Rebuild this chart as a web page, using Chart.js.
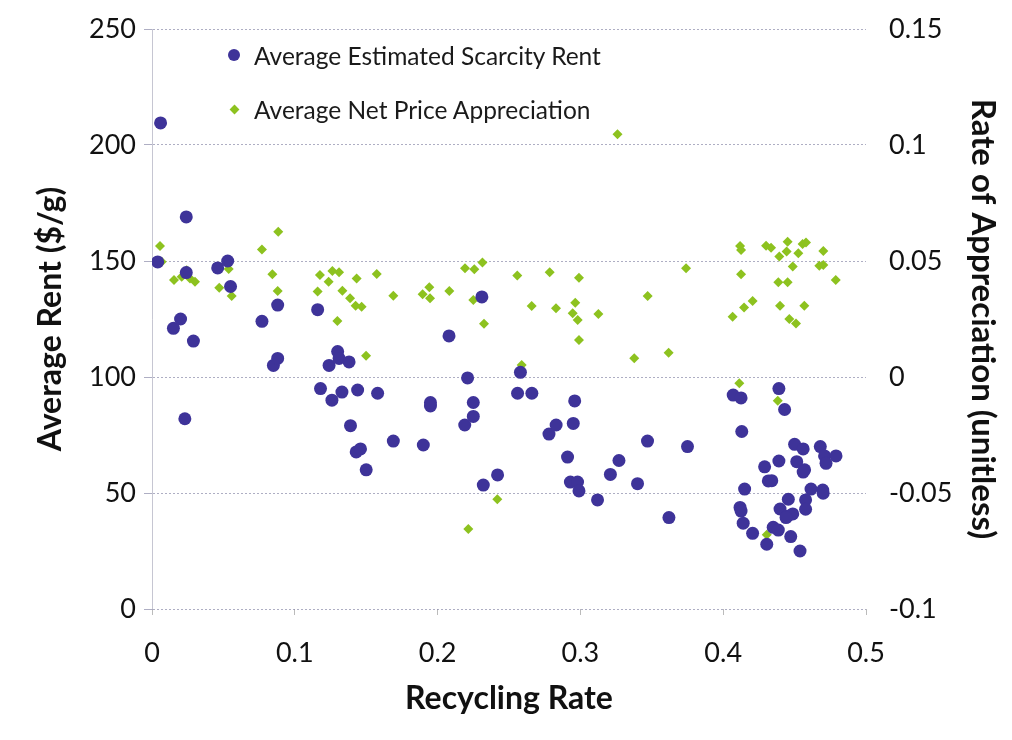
<!DOCTYPE html>
<html>
<head>
<meta charset="utf-8">
<script src="https://cdn.jsdelivr.net/npm/chart.js@4.4.1/dist/chart.umd.min.js"></script>
<style>
    body { margin: 0; background: #fff; }
    #wrap { position: relative; width: 1012px; height: 740px; }
    #legend { position: absolute; left: 222px; top: 28px; font-family: Lato, sans-serif; font-size: 24.5px; color: #1a1a1a; }
    .legend-item { display: flex; align-items: center; height: 54px; }
    .legend-mark { width: 24px; display: flex; justify-content: center; margin-right: 8px; }
    .dot { width: 12px; height: 12px; border-radius: 50%; }
    .diamond { width: 7px; height: 7px; transform: rotate(45deg); }
</style>
</head>
<body>
<div id="wrap">
    <canvas id="chart" width="1012" height="740"></canvas>
    <div id="legend"></div>
</div>
<script>
// Average Estimated Scarcity Rent ($/g) vs recycling rate
const rentRate = [
    0.006, 0.004, 0.015, 0.020, 0.023, 0.024, 0.024, 0.029, 0.046, 0.053,
    0.055, 0.077, 0.085, 0.088, 0.088, 0.116, 0.118, 0.124, 0.126, 0.130,
    0.131, 0.133, 0.138, 0.139, 0.143, 0.144, 0.146, 0.150, 0.158, 0.169,
    0.190, 0.195, 0.195, 0.208, 0.219, 0.221, 0.225, 0.225, 0.231, 0.232,
    0.242, 0.256, 0.258, 0.266, 0.278, 0.283, 0.291, 0.293, 0.296, 0.295,
    0.298, 0.299, 0.312, 0.321, 0.327, 0.340, 0.347, 0.362, 0.375, 0.407,
    0.4125, 0.413, 0.439, 0.443, 0.450, 0.456, 0.468, 0.471, 0.479, 0.472,
    0.429, 0.439, 0.4515, 0.457, 0.456, 0.4316, 0.434, 0.415, 0.4615, 0.4697,
    0.470, 0.4456, 0.4577, 0.4118, 0.4125, 0.4398, 0.445, 0.4487, 0.4577, 0.444,
    0.414, 0.4206, 0.435, 0.4386, 0.4305, 0.4473, 0.4538
];
const rentValue = [
    209.5, 149.6, 121, 125, 82, 169, 145, 115.5, 147, 150,
    139, 124, 105, 108, 131, 129, 95, 105, 90, 111,
    108, 93.5, 106.5, 79, 67.7, 94.4, 69, 60, 93, 72.4,
    70.7, 87.5, 89, 117.7, 79.3, 99.6, 83, 89, 134.5, 53.4,
    57.8, 93, 102, 93, 75.4, 79.3, 65.5, 54.7, 89.7, 80,
    54.7, 50.9, 47, 58, 64, 54, 72.4, 39.4, 70, 92.2,
    91, 76.5, 95, 86, 71, 69, 70, 66, 66, 62.8,
    61.3, 63.8, 63.5, 60, 59, 55.2, 55.3, 51.7, 51.7, 51.3,
    49.9, 47.3, 47, 43.8, 42.2, 43.1, 40, 41, 43, 39.4,
    37, 32.6, 35.2, 34, 27.9, 31.2, 25
];

// Average Net Price Appreciation (unitless) vs recycling rate
const apprRate = [
    0.0056, 0.0068, 0.0154, 0.0208, 0.0243, 0.0266, 0.0301, 0.0471, 0.0537, 0.0558,
    0.077, 0.0843, 0.088, 0.0884, 0.116, 0.1176, 0.1237, 0.1263, 0.131, 0.1333,
    0.1298, 0.1387, 0.1426, 0.1468, 0.1433, 0.1499, 0.1574, 0.169, 0.1895, 0.1942,
    0.1947, 0.2082, 0.2192, 0.2257, 0.2314, 0.225, 0.2325, 0.2558, 0.2589, 0.2659,
    0.2785, 0.2829, 0.299, 0.2964, 0.2946, 0.2981, 0.299, 0.3126, 0.3377, 0.3471,
    0.3618, 0.326, 0.374, 0.4118, 0.4125, 0.4125, 0.4066, 0.4146, 0.4206, 0.43,
    0.4335, 0.4393, 0.4444, 0.4451, 0.4526, 0.4556, 0.458, 0.4701, 0.4487, 0.4673,
    0.4701, 0.4788, 0.4386, 0.4451, 0.4398, 0.4568, 0.4463, 0.451, 0.4113, 0.4382,
    0.4305, 0.2418, 0.2215
];
const apprValue = [
    0.0565, 0.0497, 0.0418, 0.0432, 0.046, 0.0425, 0.0411, 0.0385, 0.0466, 0.0349,
    0.055, 0.0443, 0.0371, 0.0626, 0.0368, 0.044, 0.0411, 0.0457, 0.0451, 0.0372,
    0.0241, 0.0339, 0.0307, 0.0303, 0.0425, 0.0092, 0.0444, 0.035, 0.0357, 0.0387,
    0.0339, 0.0371, 0.0469, 0.0464, 0.0494, 0.0332, 0.0229, 0.0437, 0.0052, 0.0306,
    0.0451, 0.0296, 0.0428, 0.032, 0.0275, 0.0246, 0.016, 0.0272, 0.0081, 0.0349,
    0.0105, 0.1046, 0.0469, 0.0565, 0.0547, 0.0443, 0.026, 0.03, 0.0328, 0.0566,
    0.0557, 0.0519, 0.0541, 0.0583, 0.0533, 0.0573, 0.058, 0.0543, 0.0476, 0.048,
    0.0483, 0.0418, 0.0408, 0.0408, 0.0307, 0.0307, 0.025, 0.0231, -0.0027, -0.0102,
    -0.068, -0.0527, -0.0655
];

const xTicks = [0, 0.1, 0.2, 0.3, 0.4, 0.5];
const rentTicks = [0, 50, 100, 150, 200, 250];
const apprTicks = [-0.1, -0.05, 0, 0.05, 0.1, 0.15];

const BLUE = '#3e3399';
const GREEN = '#8dc21f';
const FONT = 'Lato, sans-serif';

function toPoints(xs, ys) {
    return xs.map((x, i) => ({ x: x, y: ys[i] }));
}

function fixWidth(px) {
    return scale => { scale.width = px; };
}

// Excel-style labels: 0.1 rather than 0.10
function plainNumber(value) {
    return String(parseFloat(value.toFixed(3)));
}

const chart = new Chart(document.getElementById('chart'), {
    type: 'scatter',
    data: {
        datasets: [
            {
                label: 'Average Estimated Scarcity Rent',
                data: toPoints(rentRate, rentValue),
                yAxisID: 'yRent',
                pointStyle: 'circle',
                pointRadius: 6.5,
                backgroundColor: BLUE,
                borderColor: BLUE,
                borderWidth: 0
            },
            {
                label: 'Average Net Price Appreciation',
                data: toPoints(apprRate, apprValue),
                yAxisID: 'yAppr',
                pointStyle: 'rectRot',
                pointRadius: 5,
                backgroundColor: GREEN,
                borderColor: GREEN,
                borderWidth: 0
            }
        ]
    },
    options: {
        responsive: false,
        animation: false,
        layout: { padding: { top: 29 } },
        plugins: {
            legend: { display: false },
            tooltip: { enabled: false }
        },
        scales: {
            x: {
                type: 'linear',
                min: 0,
                max: 0.5,
                afterBuildTicks: scale => { scale.ticks = xTicks.map(v => ({ value: v })); },
                afterFit: scale => { scale.height = 131; },
                grid: { drawOnChartArea: false, tickLength: 6, color: '#bbb' },
                border: { display: false },
                ticks: { color: '#111', padding: 22, font: { family: FONT, size: 27 }, callback: plainNumber },
                title: {
                    display: true,
                    text: 'Recycling Rate',
                    color: '#111',
                    font: { family: FONT, size: 32, weight: 'bold' },
                    padding: { top: 0, bottom: 22 }
                }
            },
            yRent: {
                type: 'linear',
                position: 'left',
                min: 0,
                max: 250,
                afterBuildTicks: scale => { scale.ticks = rentTicks.map(v => ({ value: v })); },
                afterFit: fixWidth(152),
                grid: { color: 'rgba(140,140,170,0.7)', tickLength: 8 },
                border: { display: true, color: 'rgba(160,160,180,0.6)', dash: [2, 2] },
                ticks: { color: '#111', padding: 8, font: { family: FONT, size: 27 } },
                title: {
                    display: true,
                    text: 'Average Rent ($/g)',
                    color: '#111',
                    font: { family: FONT, size: 32, weight: 'bold' },
                    padding: { top: 31, bottom: 0 }
                }
            },
            yAppr: {
                type: 'linear',
                position: 'right',
                min: -0.1,
                max: 0.15,
                afterBuildTicks: scale => { scale.ticks = apprTicks.map(v => ({ value: v })); },
                afterFit: fixWidth(146),
                // invisible tick marks give the label offset without extra top padding
                grid: { drawOnChartArea: false, drawTicks: true, tickLength: 15, tickColor: 'rgba(0,0,0,0)' },
                border: { display: false },
                ticks: { color: '#111', padding: 8, font: { family: FONT, size: 27 }, callback: plainNumber },
                title: {
                    display: true,
                    text: 'Rate of Appreciation (unitless)',
                    color: '#111',
                    font: { family: FONT, size: 33, weight: 'bold' },
                    padding: { top: 10, bottom: 0 }
                }
            }
        }
    }
});

// HTML legend built from the datasets
const legendEl = document.getElementById('legend');
chart.data.datasets.forEach(ds => {
    const item = document.createElement('div');
    item.className = 'legend-item';
    const mark = document.createElement('span');
    mark.className = 'legend-mark';
    const shape = document.createElement('span');
    shape.className = ds.pointStyle === 'circle' ? 'dot' : 'diamond';
    shape.style.background = ds.backgroundColor;
    mark.appendChild(shape);
    const label = document.createElement('span');
    label.textContent = ds.label;
    item.appendChild(mark);
    item.appendChild(label);
    legendEl.appendChild(item);
});
</script>
</body>
</html>
